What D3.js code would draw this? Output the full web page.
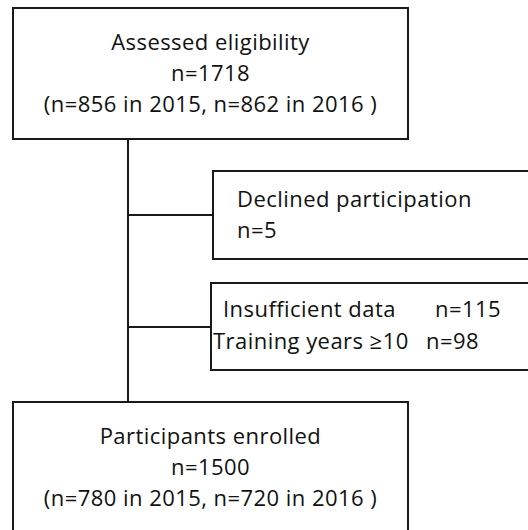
<!DOCTYPE html>
<html>
<head>
<meta charset="utf-8">
<script src="https://cdn.jsdelivr.net/npm/d3@7"></script>
<style>
  body { margin: 0; background: #fff; }
  svg { display: block; }
</style>
</head>
<body>
<svg id="flow"></svg>
<script>
// Flow data
const mainLabels = ["Assessed eligibility", "Participants enrolled"];
const mainTotals = [1718, 1500];
const mainYears = [[856, 862], [780, 720]];
const yearLabels = ["2015", "2016"];
const excludedLabels = [["Declined participation"], ["Insufficient data", "Training years \u226510"]];
const excludedCounts = [[5], [115, 98]];

const width = 528, height = 530;
const svg = d3.select("#flow").attr("width", width).attr("height", height);

// layout scales (pixel grid of the figure)
const x = d3.scaleLinear().domain([0, 1]).range([13, 408]);   // main column
const spineX = 128;
const boxes = [
  { y0: 8, y1: 139 },     // assessed
  { y0: 402, y1: 560 }    // enrolled (runs off the bottom)
];
const side = [
  { x0: 213, y0: 171, y1: 259, link: 215 },
  { x0: 211, y0: 283, y1: 370, link: 327 }
];

const stroke = "#1a1a1a";
const font = "'Open Sans', sans-serif";
const fs = 22;
const ls = 0.45;

function label(sel) {
  return sel.attr("font-family", font).attr("font-size", fs)
    .attr("letter-spacing", ls).attr("fill", "#111");
}

// spine
svg.append("line")
  .attr("x1", spineX).attr("x2", spineX)
  .attr("y1", boxes[0].y1).attr("y2", boxes[1].y0)
  .attr("stroke", stroke).attr("stroke-width", 2);

// main boxes
const main = svg.selectAll("g.main")
  .data(mainLabels.map((d, i) => ({ label: d, total: mainTotals[i], years: mainYears[i], box: boxes[i] })))
  .join("g").attr("class", "main");

main.append("rect")
  .attr("x", x(0)).attr("y", d => d.box.y0)
  .attr("width", x(1) - x(0)).attr("height", d => d.box.y1 - d.box.y0)
  .attr("fill", "#fff").attr("stroke", stroke).attr("stroke-width", 2);

const lines = d => [
  d.label,
  "n=" + d.total,
  "(n=" + d.years[0] + " in " + yearLabels[0] + ", n=" + d.years[1] + " in " + yearLabels[1] + " )"
];

main.selectAll("text")
  .data(d => lines(d).map((t, j) => ({ t, j, y0: d.box.y0 })))
  .join("text")
  .attr("x", x(0.5))
  .attr("y", d => d.y0 + 42 + d.j * 31)
  .attr("text-anchor", "middle")
  .call(label)
  .text(d => d.t);

// side (exclusion) boxes
side.forEach((s, i) => {
  svg.append("line")
    .attr("x1", spineX).attr("x2", s.x0)
    .attr("y1", s.link).attr("y2", s.link)
    .attr("stroke", stroke).attr("stroke-width", 2);

  svg.append("rect")
    .attr("x", s.x0).attr("y", s.y0)
    .attr("width", width + 20 - s.x0).attr("height", s.y1 - s.y0)
    .attr("fill", "#fff").attr("stroke", stroke).attr("stroke-width", 2);
});

// Declined participation
const g0 = svg.append("g");
g0.append("text").attr("x", 237).attr("y", 207).call(label)
  .text(excludedLabels[0][0]);
g0.append("text").attr("x", 237).attr("y", 238).call(label)
  .text("n=" + excludedCounts[0][0]);

// Insufficient data / training years
const rowX = [[223, 435], [213, 426]];
const rowY = [317, 349];
const g1 = svg.append("g");
excludedLabels[1].forEach((lab, j) => {
  g1.append("text").attr("x", rowX[j][0]).attr("y", rowY[j]).call(label)
    .text(lab);
  g1.append("text").attr("x", rowX[j][1]).attr("y", rowY[j]).call(label)
    .text("n=" + excludedCounts[1][j]);
});
</script>
</body>
</html>
